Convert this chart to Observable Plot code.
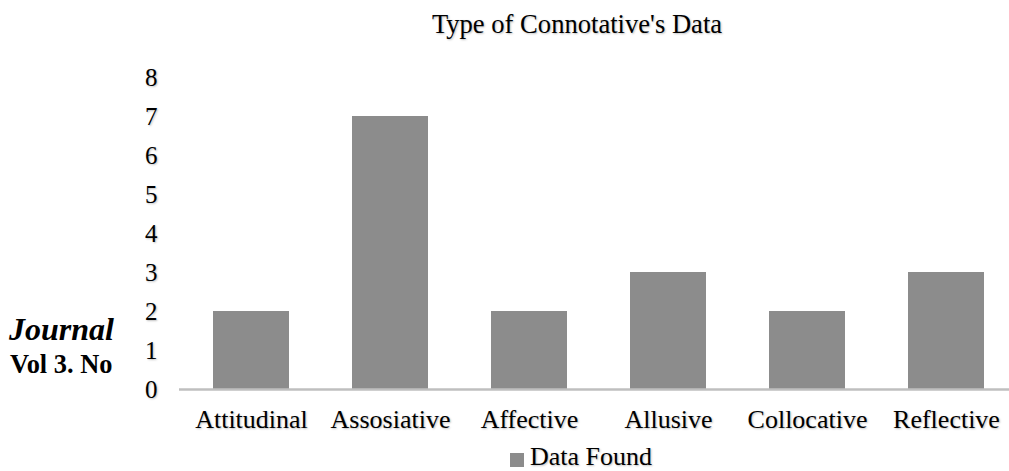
<!DOCTYPE html>
<html>
<head>
<meta charset="utf-8">
<script src="https://cdn.jsdelivr.net/npm/d3@7"></script>
<script src="https://cdn.jsdelivr.net/npm/@observablehq/plot@0.6"></script>
<style>
  html, body { margin: 0; padding: 0; background: #fff; overflow: hidden; }
  #wrap { position: relative; width: 1009px; height: 471px; font-family: 'Liberation Serif', Tinos, 'DejaVu Serif', serif; }
  #wrap svg { position: absolute; left: 0; top: 0; }
  #wrap svg text { font-family: 'Liberation Serif', Tinos, 'DejaVu Serif', serif; text-shadow: 1px 1px 2px rgba(0,0,0,0.25); }
  .title { position: absolute; left: 277px; width: 600px; top: 11px; text-align: center; font-size: 26.6px; line-height: 1; color: #000; white-space: nowrap; text-shadow: 1px 1px 2px rgba(0,0,0,0.25); }
  .legend { position: absolute; left: 510px; top: 444px; font-size: 26px; line-height: 1; color: #000; white-space: nowrap; text-shadow: 1px 1px 2px rgba(0,0,0,0.25); }
  .legend .sw { position: absolute; left: 0; top: 9px; width: 14px; height: 14px; background: #8c8c8c; }
  .legend .lab { position: absolute; left: 20px; top: 0; }
  .journal { position: absolute; left: 9px; top: 313px; font-size: 32px; line-height: 1; font-weight: bold; font-style: italic; white-space: nowrap; }
  .vol { position: absolute; left: 10px; top: 351px; font-size: 26.4px; line-height: 1; font-weight: bold; white-space: nowrap; }
</style>
</head>
<body>
<div id="wrap">
  <div class="title">Type of Connotative's Data</div>
  <div class="journal">Journal</div>
  <div class="vol">Vol 3. No</div>
  <div class="legend"><span class="sw"></span><span class="lab">Data Found</span></div>
</div>
<script>
const categories = ["Attitudinal", "Assosiative", "Affective", "Allusive", "Collocative", "Reflective"];
const dataFound = [2, 7, 2, 3, 2, 3];
const yTicks = [0, 1, 2, 3, 4, 5, 6, 7, 8];
const seriesName = "Data Found";

const rows = categories.map((c, i) => ({category: c, value: dataFound[i], series: seriesName}));

const chart = Plot.plot({
  width: 1009,
  height: 471,
  marginTop: 77,
  marginBottom: 82,
  marginLeft: 179,
  marginRight: 0,
  style: {background: "transparent", overflow: "visible"},
  x: {domain: categories, range: [179.6, 1018.4], paddingInner: 0.45, paddingOuter: 0.225, align: 0.5, label: null},
  y: {domain: [0, 8], label: null},
  marks: [
    Plot.gridY(yTicks, {stroke: "#ececec", strokeOpacity: 1, strokeWidth: 1.5, x1: 179, x2: 1009}),
    Plot.barY(rows, {x: "category", y: "value", fill: "#8c8c8c"}),
    Plot.ruleY([0], {stroke: "#bfbfbf", strokeWidth: 2.5}),
    Plot.axisY(yTicks, {tickSize: 0, tickPadding: 22, fontSize: 25, label: null, fill: "#000"}),
    Plot.axisX({tickSize: 0, tickPadding: 20, fontSize: 26, label: null, fill: "#000"})
  ]
});
document.getElementById("wrap").prepend(chart);
</script>
</body>
</html>
